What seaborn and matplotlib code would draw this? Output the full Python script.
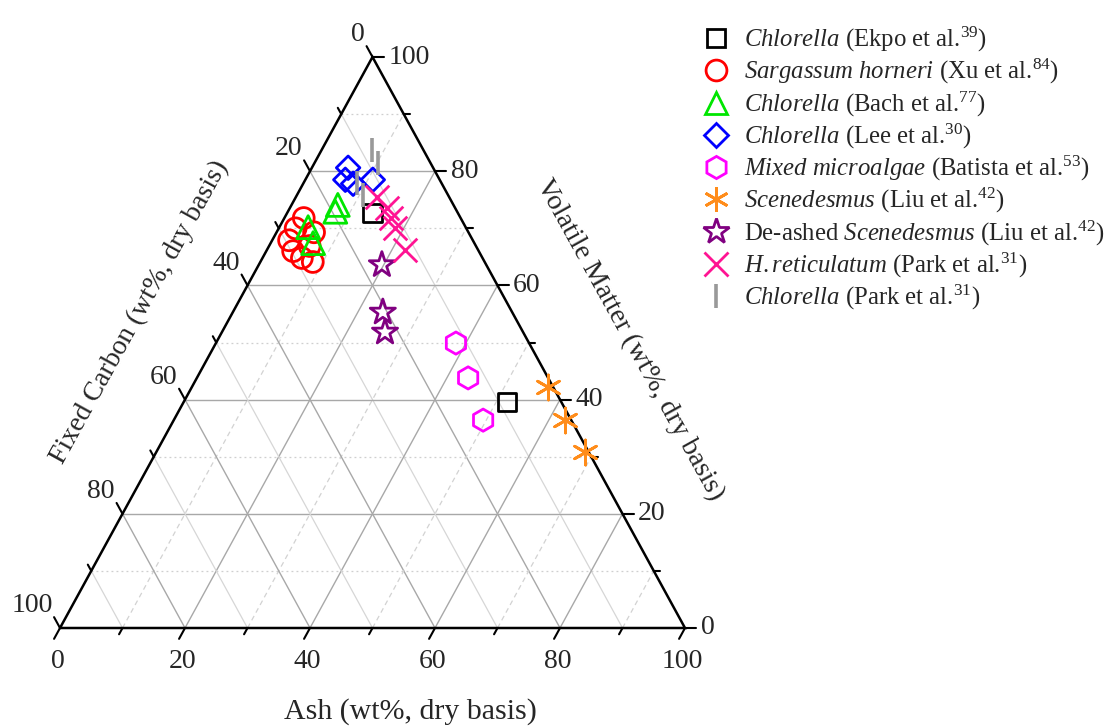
import numpy as np
import pandas as pd
import matplotlib
matplotlib.use("Agg")
import matplotlib.pyplot as plt
from matplotlib.lines import Line2D
import seaborn as sns

# ---------------- data (wt%, dry basis) ----------------
ekpo_ash = [13.7, 51.7]
ekpo_vm = [72.7, 39.6]

xu_ash = [3.1, 2.7, 2.7, 4.3, 6.3, 8.4, 6.5, 6.0]
xu_vm = [71.8, 70.0, 67.9, 66.0, 64.8, 64.1, 66.9, 69.3]

bach_ash = [4.6, 6.8, 7.6, 7.4]
bach_vm = [70.2, 67.4, 72.9, 74.1]

lee_ash = [5.8, 6.4, 8.0, 10.8]
lee_vm = [80.6, 78.5, 77.8, 78.5]

batista_ash = [38.4, 43.4, 49.5]
batista_vm = [49.9, 43.8, 36.4]

liu_ash = [57.0, 62.6, 68.6]
liu_vm = [42.2, 36.4, 30.8]

liu_deashed_ash = [19.7, 24.0, 26.1]
liu_deashed_vm = [63.6, 55.3, 51.8]

park_hr_ash = [13.0, 15.5, 17.1, 18.5, 22.1]
park_hr_vm = [75.5, 73.5, 71.8, 70.1, 66.2]

park_ch_ash = [8.1, 10.2, 8.5, 10.6]
park_ch_vm = [83.7, 81.4, 77.9, 75.8]

tick_values = [0, 20, 40, 60, 80, 100]

series = [
    (r"$\mathit{Chlorella}$ (Ekpo et al.$^{39}$)", ekpo_ash, ekpo_vm, "s", "#000000", 13.5),
    (r"$\mathit{Sargassum\ horneri}$ (Xu et al.$^{84}$)", xu_ash, xu_vm, "o", "#FF0000", 15),
    (r"$\mathit{Chlorella}$ (Bach et al.$^{77}$)", bach_ash, bach_vm, "^", "#00E600", 16.5),
    (r"$\mathit{Chlorella}$ (Lee et al.$^{30}$)", lee_ash, lee_vm, "D", "#0000FF", 12),
    (r"$\mathit{Mixed\ microalgae}$ (Batista et al.$^{53}$)", batista_ash, batista_vm, "h", "#FF00FF", 16),
    (r"$\mathit{Scenedesmus}$ (Liu et al.$^{42}$)", liu_ash, liu_vm, (6, 2, 0), "#FF8C1A", 18),
    (r"De-ashed $\mathit{Scenedesmus}$ (Liu et al.$^{42}$)", liu_deashed_ash, liu_deashed_vm, "*", "#800080", 19),
    (r"$\mathit{H.reticulatum}$ (Park et al.$^{31}$)", park_hr_ash, park_hr_vm, "x", "#FF1493", 17),
    (r"$\mathit{Chlorella}$ (Park et al.$^{31}$)", park_ch_ash, park_ch_vm, "|", "#999999", 17),
]

# ---------------- style ----------------
sns.set_theme(style="white")
plt.rcParams["font.family"] = ["Liberation Serif", "DejaVu Serif"]
plt.rcParams["mathtext.fontset"] = "custom"
plt.rcParams["mathtext.rm"] = "Liberation Serif"
plt.rcParams["mathtext.it"] = "Liberation Serif:italic"
plt.rcParams["mathtext.bf"] = "Liberation Serif:bold"

W, H = 1105, 727
fig = plt.figure(figsize=(W / 100, H / 100), dpi=100)
# triangle: base from px 60..685 at y=628, apex at y=57
ax = fig.add_axes([60 / W, (H - 628) / H, 625 / W, 571 / H])
ax.set_xlim(0, 100)
ax.set_ylim(0, 100)
ax.axis("off")


def to_xy(a, v):
    a = np.asarray(a, dtype=float)
    v = np.asarray(v, dtype=float)
    return a + v / 2.0, v


major_kw = dict(color="#A8A8A8", lw=1.0, zorder=1)
for k in range(10, 100, 10):
    is_major = k % 20 == 0
    # constant volatile matter (horizontal)
    x, y = to_xy([0, 100 - k], [k, k])
    ax.plot(x, y, **(major_kw if is_major else dict(color="#CFCFCF", lw=0.9, ls=(0, (1.5, 2.5)), zorder=1)))
    # constant ash
    x, y = to_xy([k, k], [0, 100 - k])
    ax.plot(x, y, **(major_kw if is_major else dict(color="#D2D2D2", lw=0.9, ls=(0, (4, 3)), zorder=1)))
    # constant fixed carbon
    x, y = to_xy([100 - k, 0], [0, 100 - k])
    ax.plot(x, y, **(major_kw if is_major else dict(color="#D6D6D6", lw=0.9, zorder=1)))

# triangle frame
fx, fy = to_xy([0, 100, 0, 0], [0, 0, 100, 0])
ax.plot(fx, fy, color="black", lw=1.8, zorder=3, clip_on=False, solid_joinstyle="miter")

# ticks
fs_tick = 20
for val in range(0, 101, 10):
    L = 1.9 if val % 20 == 0 else 1.1
    x0, y0 = to_xy(val, 0)
    ax.plot([x0, x0 - 0.5 * L], [y0, y0 - L], color="black", lw=1.5, clip_on=False, zorder=3)
    x0, y0 = to_xy(100 - val, val)
    ax.plot([x0, x0 + L * 0.95], [y0, y0], color="black", lw=1.5, clip_on=False, zorder=3)
    x0, y0 = to_xy(0, 100 - val)
    ax.plot([x0, x0 - 0.5 * L], [y0, y0 + L], color="black", lw=1.5, clip_on=False, zorder=3)

for val in tick_values:
    x0, y0 = to_xy(val, 0)
    ax.text(x0 - 0.4, y0 - 3.7, str(val), ha="center", va="top", fontsize=fs_tick)
    x0, y0 = to_xy(100 - val, val)
    ax.text(x0 + 2.5, y0, str(val), ha="left", va="center", fontsize=fs_tick)
    x0, y0 = to_xy(0, 100 - val)
    ax.text(x0 - 1.2, y0 + 3.9, str(val), ha="right", va="center", fontsize=fs_tick)

# axis titles
ax.text(56, -14.7, "Ash (wt%, dry basis)", ha="center", va="center", fontsize=21.5)
ax.text(12.8, 55.3, "Fixed Carbon (wt%, dry basis)", ha="center", va="center",
        fontsize=20, rotation=61.1, rotation_mode="anchor")
ax.text(91.2, 50.4, "Volatile Matter (wt%, dry basis)", ha="center", va="center",
        fontsize=20.3, rotation=-61.1, rotation_mode="anchor")

# data points
handles = []
for label, ash, vm, marker, color, ms in series:
    ash = np.asarray(ash, float)
    vm = np.asarray(vm, float)
    df = pd.DataFrame({"Ash": ash, "VM": vm, "FC": 100 - ash - vm})
    df["x"], df["y"] = to_xy(df["Ash"], df["VM"])
    mstyle = matplotlib.markers.MarkerStyle(marker)
    if mstyle.is_filled():
        sns.scatterplot(data=df, x="x", y="y", ax=ax, marker=marker, s=ms ** 2,
                        facecolor="none", edgecolor=color, linewidth=2.0,
                        zorder=4, clip_on=False, legend=False)
        h = Line2D([], [], ls="none", marker=marker, ms=ms, mfc="none", mec=color, mew=2.0)
    else:
        lw = 2.0 if marker != "|" else 2.6
        sns.scatterplot(data=df, x="x", y="y", ax=ax, marker=marker, s=ms ** 2,
                        color=color, linewidth=lw,
                        zorder=4, clip_on=False, legend=False)
        h = Line2D([], [], ls="none", marker=marker, ms=ms, color=color, mew=lw)
    handles.append((h, label))

ax.set_xlabel("")
ax.set_ylabel("")

fig.legend([h for h, _ in handles], [l for _, l in handles],
           loc="upper left", bbox_to_anchor=(704 / W, 1 - 25 / H),
           frameon=False, fontsize=17.8, handlelength=1.0, handletextpad=0.62,
           labelspacing=0.125, borderaxespad=0, borderpad=0)

fig.savefig("out.png", dpi=100)
